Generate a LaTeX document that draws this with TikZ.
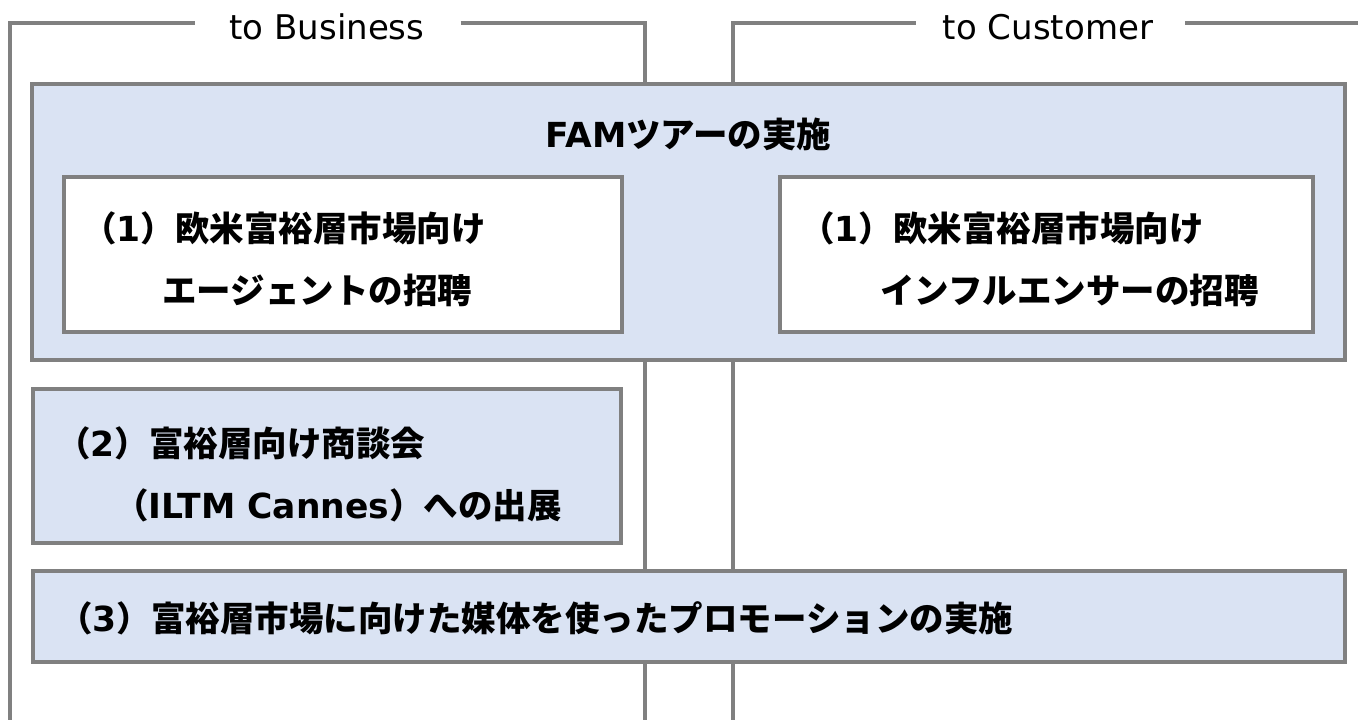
\documentclass[tikz,border=0pt]{standalone}
\usepackage{fontspec}
\usetikzlibrary{calc}
\setmainfont{DejaVu Sans}
\newfontfamily\cjkfont{Noto Sans CJK JP}
\newfontfamily\latfont{DejaVu Sans}
\newcommand\Jt[1]{{\cjkfont\bfseries #1}}
\newcommand\Lt[1]{{\latfont\bfseries #1}}
\definecolor{boxblue}{HTML}{DAE3F3}
\definecolor{linegray}{HTML}{808080}
\tikzset{
  bracket/.style={draw=linegray, line width=3.5pt},
  panel/.style={draw=linegray, line width=4pt, fill=boxblue},
  whitepanel/.style={draw=linegray, line width=4pt, fill=white},
  txt/.style={inner sep=0pt, anchor=west, font=\fontsize{34.5}{40}\selectfont},
  lbl/.style={inner sep=0pt, font=\fontsize{34}{40}\selectfont},
}
\begin{document}
\begin{tikzpicture}[x=1pt,y=-1pt]
\useasboundingbox (0,0) rectangle (1358,720);
% bracket lines
\coordinate (bbot) at (10,722);
\coordinate (btop) at (10,23);
\node[lbl] (lb) at (327,27) {to Business};
\coordinate (brt) at (645,23);
\coordinate (brb) at (645,722);
\coordinate (lbw) at ($(lb.west |- btop)+(-34,0)$);
\coordinate (lbe) at ($(lb.east |- btop)+(36,0)$);
\draw[bracket] (bbot) -- (btop) -- (lbw);
\draw[bracket] (lbe) -- (brt) -- (brb);
\coordinate (cbot) at (733,722);
\coordinate (ctop) at (733,23);
\node[lbl] (lc) at (1048,27) {to Customer};
\coordinate (cend) at (1360,23);
\coordinate (lcw) at ($(lc.west |- ctop)+(-27,0)$);
\coordinate (lce) at ($(lc.east |- ctop)+(32,0)$);
\draw[bracket] (cbot) -- (ctop) -- (lcw);
\draw[bracket] (lce) -- (cend);
% FAM panel
\draw[panel] (32,84) rectangle (1345,360);
\node[txt, anchor=center] (fam) at (688.5,134) {\Lt{FAM}\Jt{ツアーの実施}};
\draw[whitepanel] (64,177) rectangle (622,332);
\draw[whitepanel] (780,177) rectangle (1313,332);
\node[txt] (a1) at (82,228) {\Jt{（}\Lt{1}\Jt{）欧米富裕層市場向け}};
\node[txt] (a2) at (162,290) {\Jt{エージェントの招聘}};
\node[txt] (b1) at (800,228) {\Jt{（}\Lt{1}\Jt{）欧米富裕層市場向け}};
\node[txt] (b2) at (880,290) {\Jt{インフルエンサーの招聘}};
% panel 2
\draw[panel] (33,389) rectangle (621,543);
\node[txt] (c1) at (56,443) {\Jt{（}\Lt{2}\Jt{）富裕層向け商談会}};
\node[txt] (c2) at (114,505) {\Jt{（}\Lt{ILTM Cannes}\Jt{）への出展}};
% panel 3
\draw[panel] (33,571) rectangle (1345,662);
\node[txt] (d1) at (58,618) {\Jt{（}\Lt{3}\Jt{）富裕層市場に向けた媒体を使ったプロモーションの実施}};
\end{tikzpicture}
\end{document}
